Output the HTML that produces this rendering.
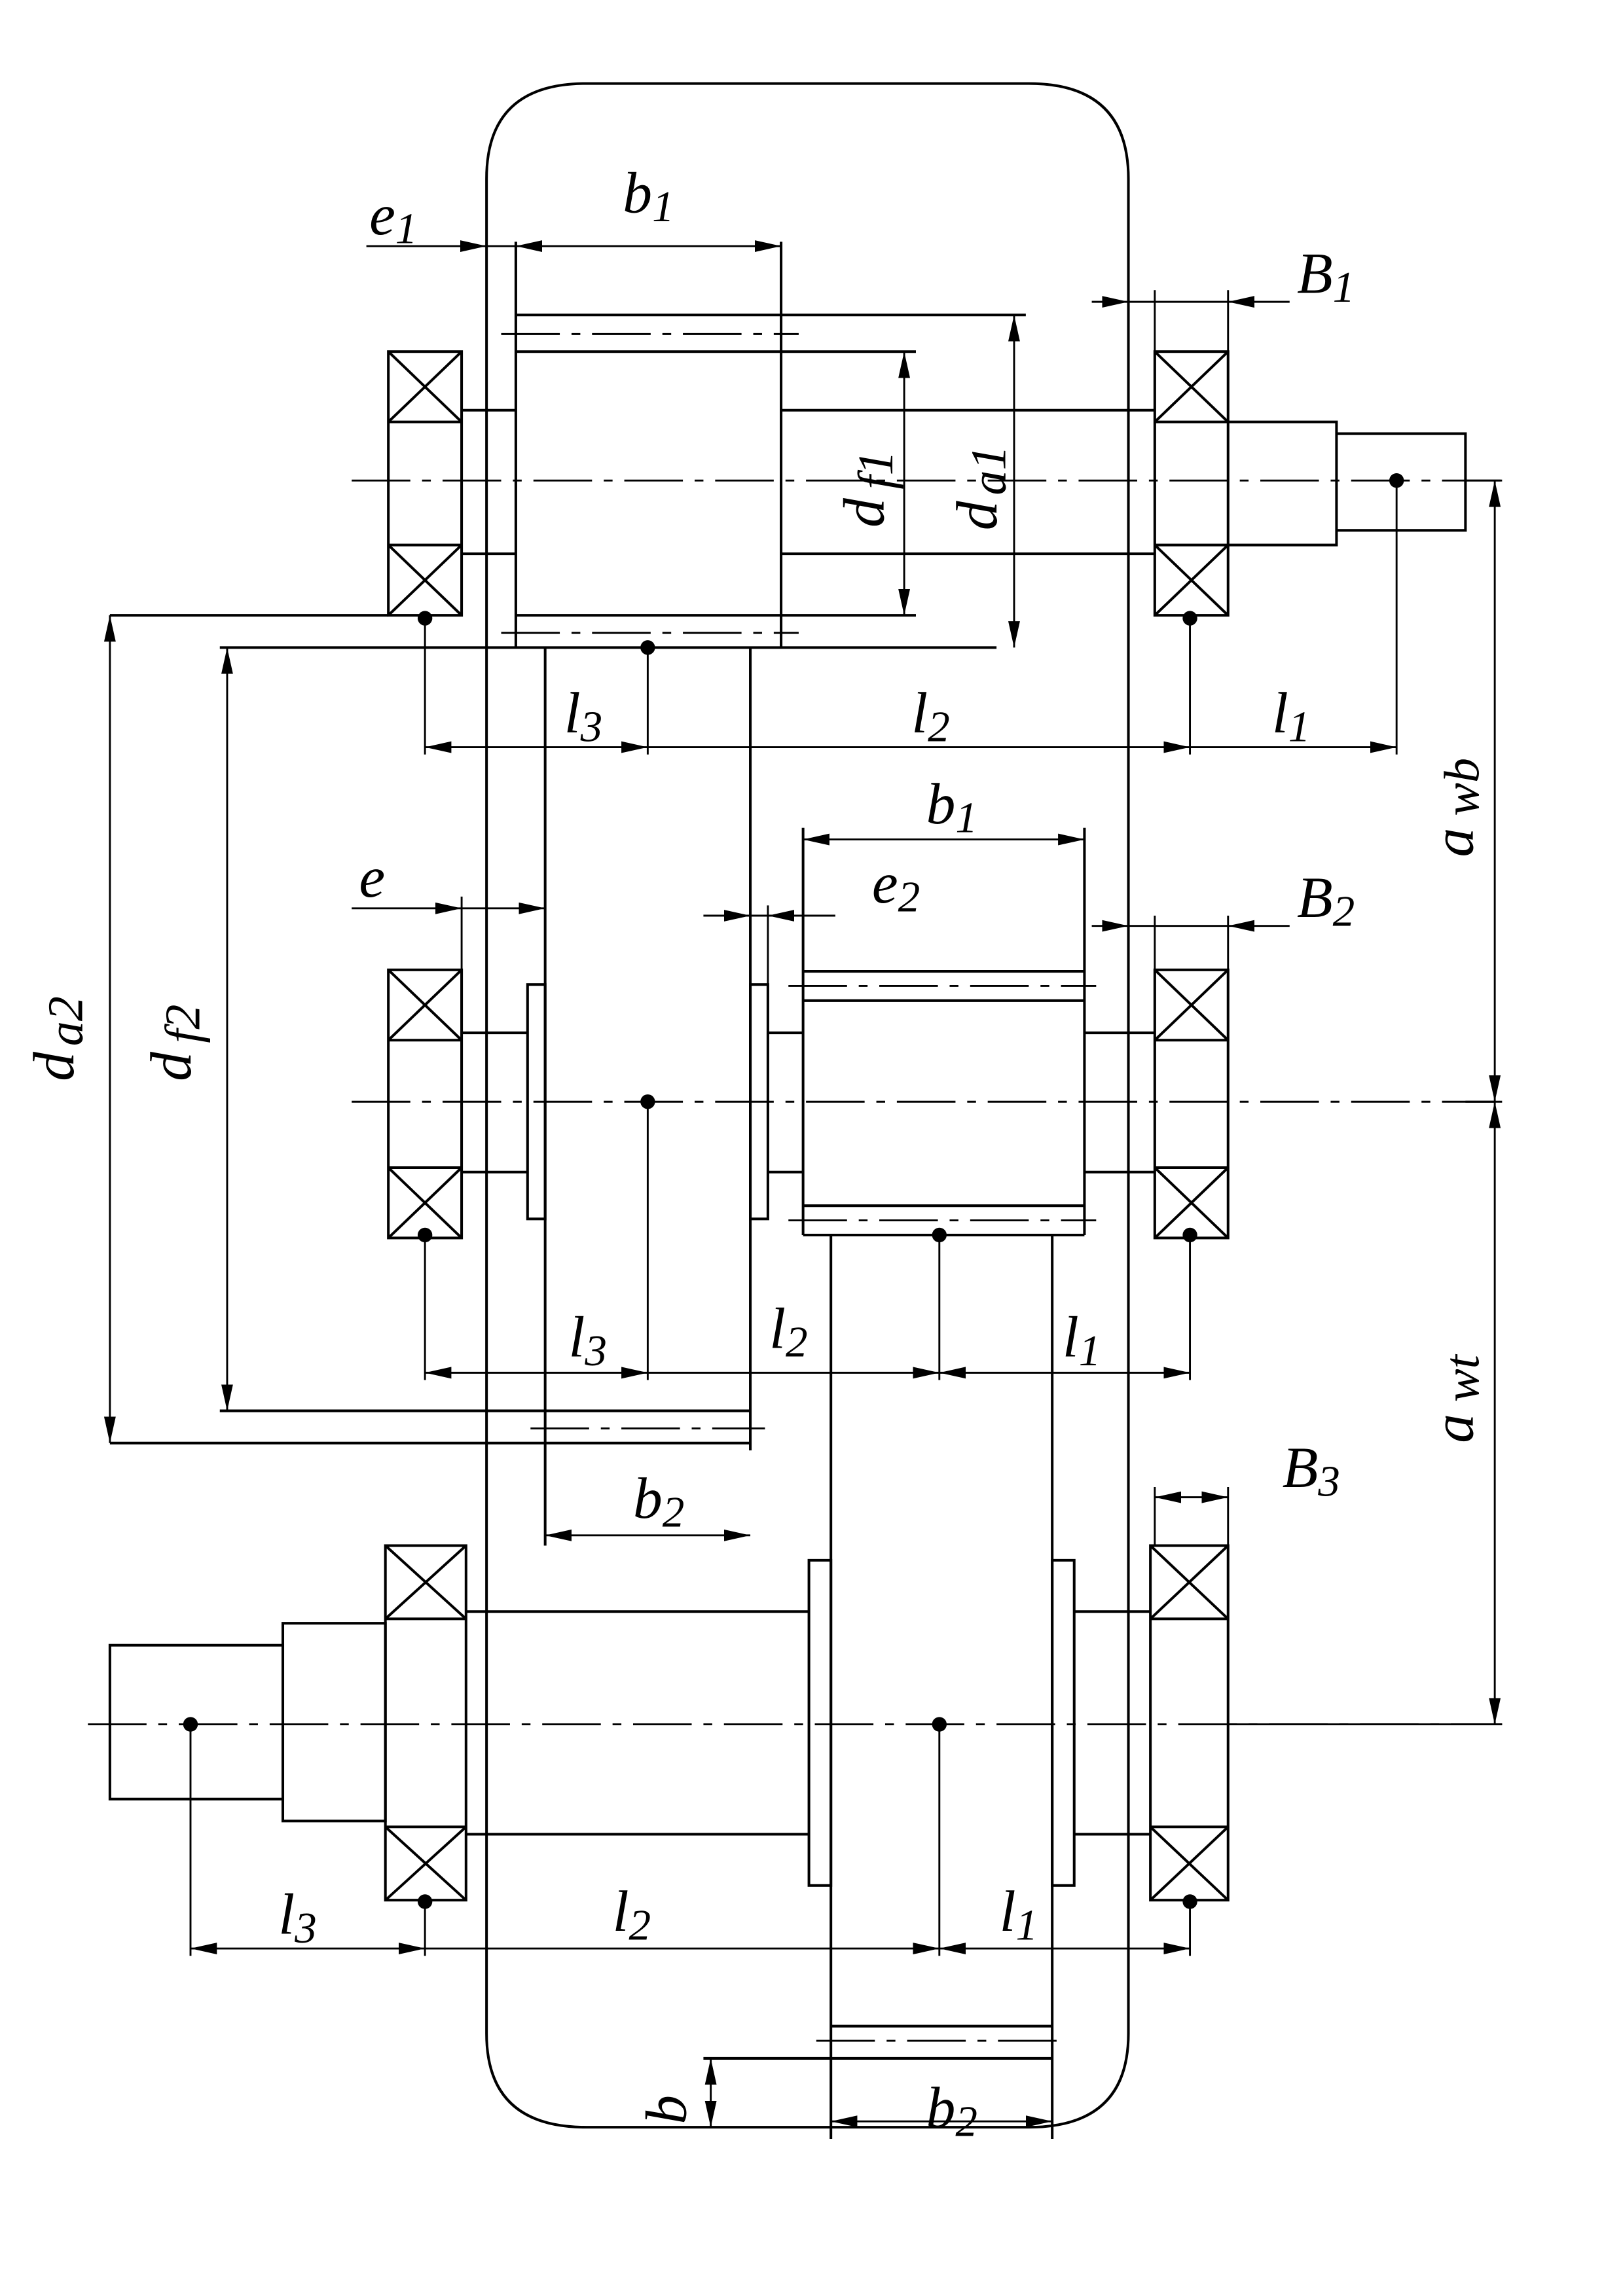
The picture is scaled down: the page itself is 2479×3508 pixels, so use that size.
<!DOCTYPE html>
<html><head><meta charset="utf-8"><style>html,body{margin:0;padding:0;background:#fff}svg{display:block}text{font-family:"Liberation Serif",serif;font-style:italic;fill:#000}</style></head><body>
<svg width="2479" height="3508" viewBox="0 0 1107.5 1567.2" xmlns="http://www.w3.org/2000/svg">
<defs>
<marker id="a" markerUnits="userSpaceOnUse" markerWidth="20" markerHeight="10" refX="18" refY="4" orient="auto-start-reverse"><path d="M0,0 L18,4 L0,8 Z" fill="#000"/></marker>
</defs>
<g fill="none" stroke="#000" stroke-width="1.8">
<path d="M332,122 Q332,57 400,57 L702,57 Q770,57 770,122 L770,1388 Q770,1452 702,1452 L400,1452 Q332,1452 332,1388 Z"/>
<rect x="265" y="240" width="50" height="180"/><line x1="265" y1="288" x2="315" y2="288"/><line x1="265" y1="372" x2="315" y2="372"/>
<path d="M265,240L315,288M315,240L265,288M265,372L315,420M315,372L265,420"/>
<rect x="788" y="240" width="50" height="180"/><line x1="788" y1="288" x2="838" y2="288"/><line x1="788" y1="372" x2="838" y2="372"/>
<path d="M788,240L838,288M838,240L788,288M788,372L838,420M838,372L788,420"/>
<path d="M315,280H352M315,378H352M533,280H788M533,378H788"/>
<path d="M352,165V442M533,165V442"/>
<path d="M352,215H700M352,240H625M352,420H625M75,420H265M150,442H680"/>
<path d="M838,288H912V372H838M912,296H1000V362H912"/>
<rect x="265" y="662" width="50" height="183"/><line x1="265" y1="710" x2="315" y2="710"/><line x1="265" y1="797" x2="315" y2="797"/>
<path d="M265,662L315,710M315,662L265,710M265,797L315,845M315,797L265,845"/>
<rect x="788" y="662" width="50" height="183"/><line x1="788" y1="710" x2="838" y2="710"/><line x1="788" y1="797" x2="838" y2="797"/>
<path d="M788,662L838,710M838,662L788,710M788,797L838,845M838,797L788,845"/>
<path d="M315,705H360M315,800H360M524,705H548M524,800H548M740,705H788M740,800H788"/>
<rect x="360" y="672" width="12" height="160"/><rect x="512" y="672" width="12" height="160"/>
<path d="M372,442V1055M512,442V990M150,963H512M75,985H512"/>
<path d="M548,565V843M740,565V843M548,663H740M548,683H740M548,823H740M548,843H740"/>
<rect x="75" y="1123" width="118" height="105"/><rect x="193" y="1108" width="70" height="135"/>
<rect x="263" y="1055" width="55" height="242"/><line x1="263" y1="1105" x2="318" y2="1105"/><line x1="263" y1="1247" x2="318" y2="1247"/>
<path d="M263,1055L318,1105M318,1055L263,1105M263,1247L318,1297M318,1247L263,1297"/>
<rect x="785" y="1055" width="53" height="242"/><line x1="785" y1="1105" x2="838" y2="1105"/><line x1="785" y1="1247" x2="838" y2="1247"/>
<path d="M785,1055L838,1105M838,1055L785,1105M785,1247L838,1297M838,1247L785,1297"/>
<path d="M318,1100H552M318,1252H552M733,1100H785M733,1252H785"/>
<rect x="552" y="1065" width="15" height="222"/><rect x="718" y="1065" width="15" height="222"/>
<path d="M567,843V1460M718,843V1460M567,1383H718M480,1405H718"/>
</g>
<g fill="none" stroke="#000" stroke-width="1.3" stroke-dasharray="40,8,6,8">
<path d="M240,328H1025M240,752H1020M60,1177H1025"/>
<path d="M342,228H545M342,432H545M362,975H522M538,673H748M538,833H748M557,1393H728"/>
</g>
<g fill="none" stroke="#000" stroke-width="1.3">
<path d="M290,422V515M442,442V515M812,422V515M953,328V515"/>
<path d="M290,843V942M442,752V942M641,843V942M812,843V942"/>
<path d="M130,1177V1335M290,1298V1335M641,1177V1335M812,1298V1335"/>
<path d="M788,198V240M838,198V240M788,625V662M838,625V662M788,1015V1055M838,1015V1055M315,612V662M372,612V662M512,618V672M524,618V672"/>
<path d="M1000,328H1025M1000,752H1025M838,1177H1025"/>
<line x1="290" y1="510" x2="442" y2="510" marker-start="url(#a)" marker-end="url(#a)"/>
<line x1="442" y1="510" x2="812" y2="510" marker-end="url(#a)"/>
<line x1="812" y1="510" x2="953" y2="510" marker-end="url(#a)"/>
<line x1="290" y1="937" x2="442" y2="937" marker-start="url(#a)" marker-end="url(#a)"/>
<line x1="442" y1="937" x2="641" y2="937" marker-end="url(#a)"/>
<line x1="641" y1="937" x2="812" y2="937" marker-start="url(#a)" marker-end="url(#a)"/>
<line x1="130" y1="1330" x2="290" y2="1330" marker-start="url(#a)" marker-end="url(#a)"/>
<line x1="290" y1="1330" x2="641" y2="1330" marker-end="url(#a)"/>
<line x1="641" y1="1330" x2="812" y2="1330" marker-start="url(#a)" marker-end="url(#a)"/>
<line x1="250" y1="168" x2="332" y2="168" marker-end="url(#a)"/>
<line x1="332" y1="168" x2="352" y2="168"/>
<line x1="352" y1="168" x2="533" y2="168" marker-start="url(#a)" marker-end="url(#a)"/>
<line x1="745" y1="206" x2="770" y2="206" marker-end="url(#a)"/>
<line x1="770" y1="206" x2="838" y2="206"/>
<line x1="880" y1="206" x2="838" y2="206" marker-end="url(#a)"/>
<line x1="240" y1="620" x2="315" y2="620" marker-end="url(#a)"/>
<line x1="315" y1="620" x2="372" y2="620" marker-end="url(#a)"/>
<line x1="480" y1="625" x2="512" y2="625" marker-end="url(#a)"/>
<line x1="512" y1="625" x2="524" y2="625"/>
<line x1="570" y1="625" x2="524" y2="625" marker-end="url(#a)"/>
<line x1="548" y1="573" x2="740" y2="573" marker-start="url(#a)" marker-end="url(#a)"/>
<line x1="745" y1="632" x2="770" y2="632" marker-end="url(#a)"/>
<line x1="770" y1="632" x2="838" y2="632"/>
<line x1="880" y1="632" x2="838" y2="632" marker-end="url(#a)"/>
<line x1="788" y1="1022" x2="838" y2="1022" marker-start="url(#a)" marker-end="url(#a)"/>
<line x1="372" y1="1048" x2="512" y2="1048" marker-start="url(#a)" marker-end="url(#a)"/>
<line x1="567" y1="1448" x2="718" y2="1448" marker-start="url(#a)" marker-end="url(#a)"/>
<line x1="485" y1="1405" x2="485" y2="1452" marker-start="url(#a)" marker-end="url(#a)"/>
<line x1="617" y1="240" x2="617" y2="420" marker-start="url(#a)" marker-end="url(#a)"/>
<line x1="692" y1="215" x2="692" y2="442" marker-start="url(#a)" marker-end="url(#a)"/>
<line x1="75" y1="420" x2="75" y2="985" marker-start="url(#a)" marker-end="url(#a)"/>
<line x1="155" y1="442" x2="155" y2="963" marker-start="url(#a)" marker-end="url(#a)"/>
<line x1="1020" y1="328" x2="1020" y2="752" marker-start="url(#a)" marker-end="url(#a)"/>
<line x1="1020" y1="752" x2="1020" y2="1177" marker-start="url(#a)" marker-end="url(#a)"/>
</g>
<g fill="#000">
<circle cx="953" cy="328" r="5"/><circle cx="290" cy="422" r="5"/><circle cx="812" cy="422" r="5"/><circle cx="442" cy="442" r="5"/>
<circle cx="442" cy="752" r="5"/><circle cx="290" cy="843" r="5"/><circle cx="641" cy="843" r="5"/><circle cx="812" cy="843" r="5"/>
<circle cx="130" cy="1177" r="5"/><circle cx="641" cy="1177" r="5"/><circle cx="290" cy="1298" r="5"/><circle cx="812" cy="1298" r="5"/>
</g>
<g font-size="40">
<text x="252" y="160">e<tspan font-size="30" dy="6">1</tspan></text>
<text x="425" y="145">b<tspan font-size="30" dy="6">1</tspan></text>
<text x="885" y="200">B<tspan font-size="30" dy="6">1</tspan></text>
<text x="385" y="500">l<tspan font-size="30" dy="6">3</tspan></text>
<text x="622" y="500">l<tspan font-size="30" dy="6">2</tspan></text>
<text x="868" y="500">l<tspan font-size="30" dy="6">1</tspan></text>
<text x="245" y="612">e</text>
<text x="595" y="616">e<tspan font-size="30" dy="6">2</tspan></text>
<text x="632" y="562">b<tspan font-size="30" dy="6">1</tspan></text>
<text x="885" y="626">B<tspan font-size="30" dy="6">2</tspan></text>
<text x="388" y="926">l<tspan font-size="30" dy="6">3</tspan></text>
<text x="525" y="920">l<tspan font-size="30" dy="6">2</tspan></text>
<text x="725" y="926">l<tspan font-size="30" dy="6">1</tspan></text>
<text x="875" y="1015">B<tspan font-size="30" dy="6">3</tspan></text>
<text x="432" y="1036">b<tspan font-size="30" dy="6">2</tspan></text>
<text x="190" y="1320">l<tspan font-size="30" dy="6">3</tspan></text>
<text x="418" y="1318">l<tspan font-size="30" dy="6">2</tspan></text>
<text x="682" y="1318">l<tspan font-size="30" dy="6">1</tspan></text>
<text x="632" y="1452">b<tspan font-size="30" dy="6">2</tspan></text>
<text transform="translate(468,1450) rotate(-90)">b</text>
<text transform="translate(603,360) rotate(-90)">d<tspan font-size="34" dx="6" dy="6">f1</tspan></text>
<text transform="translate(680,362) rotate(-90)">d<tspan font-size="34" dx="4" dy="6">a1</tspan></text>
<text transform="translate(50,738) rotate(-90)">d<tspan font-size="34" dx="4" dy="6">a2</tspan></text>
<text transform="translate(130,738) rotate(-90)">d<tspan font-size="34" dx="6" dy="6">f2</tspan></text>
<text transform="translate(1005,585) rotate(-90)">a<tspan font-size="34" dx="8" dy="4">wb</tspan></text>
<text transform="translate(1005,985) rotate(-90)">a<tspan font-size="34" dx="8" dy="4">wt</tspan></text>
</g>
</svg>
</body></html>
